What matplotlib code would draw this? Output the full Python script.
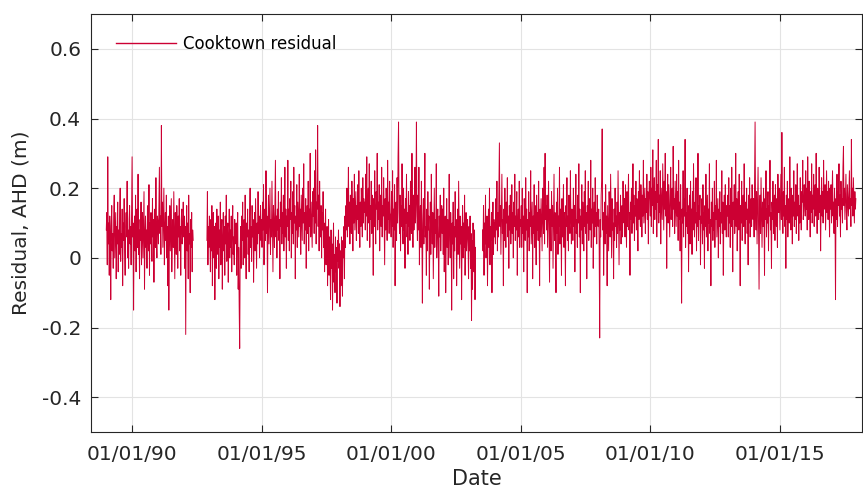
import numpy as np
import matplotlib
matplotlib.use("Agg")
import matplotlib.pyplot as plt
import matplotlib.dates as mdates

# weekly residuals in cm, three runs split by data gaps
seg1_start = "1989-01-01"
seg1_cm = [
    8, 13, -2, 29, 4, 10, -5, 12, 6, -12, 9, 15, 2, 7, -3, 11, 18, 0, 6, 13, -6, 9, 4, 16, -4, 8,
    1, 12, 20, -1, 7, 3, 14, -8, 10, 5, 17, 2, -5, 9, 13, 6, 22, 0, 8, -3, 11, 15, 4, 9, -2, 12,
    29, 6, 10, -15, 7, 12, 2, 18, -4, 9, 14, 3, 24, 1, 8, -6, 11, 5, 16, -2, 7, 13, 0, 10, 19, -9,
    6, 12, 3, 8, -3, 15, 9, 2, 21, -5, 10, 4, 13, 7, -1, 17, 6, 11, -7, 9, 14, 3, 23, 5, 0, 12,
    10, 4, 14, 26, 7, 12, 1, 38, 9, 16, 3, 11, 20, -2, 8, 13, 5, 18, 0, 9, -8, 12, -15, 6, 15, 2,
    10, 17, -4, 7, 11, 3, 19, 6, -6, 13, 8, 1, 15, 10, -3, 12, 6, 17, 2, 9, -5, 11, 14, 4, 8, 16,
    6, 12, -3, 9, -22, 8, 15, 2, 10, -6, 18, 4, 7, -10, 11, 3, 13, -4, 8, 5,
]

seg2_start = "1992-11-20"
seg2_cm = [
    5, 19, -2, 9, 3, 12,
    7, -4, 11, 2, 15, -8, 6, 13, 0, 9, -12, 4, 10, -3, 14, 6, 1, 12, -6, 8, 3, 16, -2, 7, 11, -9,
    5, 13, 2, 9, -5, 12, 4, 18, -1, 7, 10, -7, 6, 14, 0, 8, 3, 12, -4, 9, 15, 1, 6, -2, 11, 5,
    4, 10, -5, 8, 13, -9, 3, -14, -26, 2, 9, -3, 12, 5, 16, -2, 7, 11, 0, 18, 4, -6, 10, 6, 14, 1,
    8, -4, 12, 20, 3, 9, -1, 15, 6, 11, -7, 5, 13, 2, 17, 8, -3, 10, 4, 19, 7, 12, 0, 9, 15, 5,
    11, 3, 16, 8, 21, -2, 10, 14, 5, 25, 7, 12, -10, 9, 18, 4, 13, 20, 1, 11, 6, 22, 9, -4, 15, 10,
    3, 17, 28, 6, 12, 0, 14, 8, 19, 5, 11, -6, 16, 9, 23, 4, 13, 7, 18, 2, 10, 26, 6, 14, -3, 12,
    9, 28, 5, 14, 2, 17, 11, 22, 0, 13, 7, 19, 4, 26, 10, 15, -6, 12, 8, 21, 3, 16, 11, 6, 24, 9,
    14, 1, 18, 12, 5, 20, 10, 27, 4, 13, 8, 17, -3, 11, 15, 7, 22, 2, 14, 9, 30, 6, 16, 10, 3, 19,
    12, 20, 7, 25, 10, 31, 4, 16, 14, 38, 9, 18, 2, 22, 11, 6, 15, 0, 13, 8, 19, 3, 10, -4, 7, 14,
    -2, 5, 9, -8, 3, 11, -5, 6, 0, -12, 8, -3, 4, -15, 2, 10, -7, 1, -10, 6, -4, 3, -13, 5, -1, 8,
    -3, 4, -14, 2, -8, 6, -1, -11, 5, 0, 9, -6, 12, 3, 15, 8, 20, 6, 13, 26, 9, 16, 4, 18, 11, 7,
    22, 14, 2, 17, 10, 24, 8, 13, 19, 5, 15, 11, 21, 7, 25, 12, 3, 16, 9, 20, 14, 6, 23, 10, 17, 13,
    16, 8, 24, 12, 29, 5, 14, 20, 10, 27, 3, 15, 11, 22, 7, 18, 13, -5, 17, 9, 25, 12, 4, 19, 14, 30,
    8, 16, 11, 21, 2, 13, 18, 9, 26, 6, 15, 12, 23, 10, -2, 17, 8, 20, 14, 5, 28, 11, 16, 7, 22, 13,
    12, 6, 19, 9, 25, 3, 14, 8, 21, -8, 11, 16, 5, 23, 10, 29, 39, 13, 7, 18, 2, 15, 9, 27, 12, 4,
    20, 8, 14, -3, 17, 10, 24, 6, 13, 1, 19, 9, 15, 5, 22, 11, 7, 30, 12, 3, 18, 8, 14, 26, 10, 16,
    39, 12, 5, 18, 8, 26, -2, 11, 15, 3, 22, 7, -13, 10, 17, 4, 13, 30, 6, 9, -5, 14, 2, 19, 8, 12,
    -9, 6, 16, 1, 24, 10, 4, 13, -6, 8, 20, 3, 11, 7, 27, 0, 9, 14, 5, -11, 12, 6, 18, 2, 10, 15,
    7, 14, 1, 20, -4, 9, 12, -10, 6, 17, 3, 11, -2, 8, 24, 5, 0, 13, 7, -15, 10, 4, 16, -6, 9, 2,
    19, 6, 11, -8, 5, 14, 1, 22, 8, -3, 12, 4, 9, -12, 7, 15, 0, 10, 3, 18, -5, 8, 13, 2, 6, 11,
    4, -6, 9, 2, 12, -3, 7, -18, 5, -9, 10, 1, -4, 8, -12, 3,
]

seg3_start = "2003-07-12"
seg3_cm = [
    8, 2, 15, -5, 10, 4, 18, 0, 7, 12, -8, 6, 14, 3, 20, -2, 9, 5, 13, -10, 7, 16, 1, 11, 6,
    10, 4, 17, 8, 22, 2, 13, 6, 19, 33, 9, 15, 1, 12, 24, 7, 11, -8, 14, 5, 20, 9, 3, 16, 10, 23,
    6, 12, -3, 15, 8, 18, 4, 11, 21, 7, 13, 0, 16, 9, 24, 5, 12, 8, 19, -5, 10, 14, 6, 22, 3, 11,
    9, 15, 3, 20, 7, 12, -4, 17, 10, 5, 23, 8, 14, -10, 11, 6, 19, 2, 13, 9, 25, 4, 10, 16, -6, 12,
    7, 21, 3, 15, 11, -2, 18, 8, 13, 5, 22, 9, -8, 14, 6, 17, 10, 2, 20, 12, 7, 26, 4, 30, 11, 15,
    8, 18, 3, 12, 22, 6, -7, 14, 10, 2, 19, 9, 15, -3, 11, 24, 5, 13, 8, -10, 16, 7, 20, 1, 12, 9,
    26, 4, 14, 10, -5, 17, 6, 11, 21, 3, 13, 8, -8, 15, 9, 23, 5, 12, 2, 18, 10, 7, 25, 11, 4, 14,
    12, 5, 20, 9, 15, -4, 13, 24, 7, 11, 3, 18, 10, 27, 6, 14, -10, 12, 8, 21, 4, 16, 11, 2, 19, 9,
    25, 7, 13, -6, 15, 10, 22, 5, 12, 17, 8, 28, 3, 14, 10, 20, -3, 11, 16, 6, 23, 9, 13, 4, 18, 10,
    9, 14, 3, -23, 11, 6, 18, 22, 37, 8, 13, -5, 10, 16, 4, 21, 7, 12, -8, 15, 9, 2, 19, 11, 6, 24,
    13, 0, 17, 8, 10, -6, 14, 5, 20, 9, 12, 3, 16, 7, 25, 10, -2, 13, 8, 18, 4, 11, 15, 6, 22, 12,
    10, 17, 6, 21, 12, 3, 19, 9, 15, 24, 8, 13, -5, 16, 11, 20, 7, 14, 27, 10, 18, 5, 15, 12, 22, 8,
    17, 13, 2, 19, 11, 25, 14, 9, 21, 16, 6, 18, 12, 28, 10, 15, 20, 7, 17, 13, 24, 11, 19, 4, 16, 22,
    18, 12, 26, 9, 20, 15, 31, 7, 17, 23, 11, 19, 14, 28, 6, 21, 16, 34, 10, 18, 13, 25, 4, 20, 15, 11,
    27, 17, 8, 22, 14, 30, 12, 19, -3, 16, 24, 10, 21, 13, 6, 18, 26, 11, 15, 20, 9, 32, 14, 17, 7, 22,
    15, 9, 24, 12, 19, 5, 28, 11, 16, 2, 21, 8, -13, 14, 10, 25, 6, 17, 12, 34, 3, 13, 9, 20, 7, 15,
    -4, 11, 18, 4, 22, 10, 14, 1, 19, 8, 27, 12, 6, 16, 10, 23, 2, 13, 9, 30, 5, 15, 11, 18, -2, 12,
    10, 17, 4, 21, 8, 13, -3, 15, 9, 24, 6, 12, 18, 2, 14, 10, 27, 7, 11, -8, 16, 9, 20, 5, 13, 8,
    22, 3, 15, 11, 28, 6, 12, 17, 0, 14, 9, 19, 4, 13, 10, 25, 7, 16, -5, 11, 18, 8, 21, 12, 6, 15,
    12, 18, 6, 23, 10, 15, 3, 20, 9, 26, 13, -4, 16, 11, 21, 7, 14, 30, 9, 17, 2, 12, 19, 8, 24, 11,
    -8, 15, 10, 22, 5, 13, 18, 9, 27, 12, 4, 16, 11, 20, 7, 14, -2, 18, 10, 23, 6, 13, 17, 9, 21, 14,
    11, 17, 6, 22, 39, 13, 8, 19, 4, 15, 26, 10, -9, 14, 18, 7, 23, 12, 3, 16, 9, 20, 13, -5, 17, 11,
    25, 6, 14, 10, 19, 2, 15, 12, 28, 8, 13, -3, 16, 11, 22, 7, 14, 18, 5, 21, 12, 9, 17, 3, 24, 13,
    13, 20, 8, 16, 24, 11, 36, 14, 7, 19, 12, 26, 9, 15, -3, 18, 11, 22, 6, 14, 17, 10, 29, 13, 8, 20,
    15, 4, 18, 12, 25, 9, 16, 11, 21, 7, 14, 27, 12, 18, 5, 15, 10, 23, 13, 8, 19, 16, 28, 11, 14, 21,
    17, 12, 25, 14, 20, 8, 29, 16, 11, 22, 15, 6, 19, 13, 27, 10, 18, 14, 24, 9, 16, 21, 12, 30, 15, 7,
    20, 17, 11, 26, 13, 18, 2, 16, 23, 12, 19, 10, 28, 15, 14, 21, 8, 17, 25, 13, 19, 11, 22, 16, 6, 20,
    14, 21, 10, 18, 25, 12, 16, 7, 20, 13, -12, 17, 11, 24, 9, 19, 15, 27, 12, 18, 6, 22, 14, 17, 10, 26,
    32, 15, 20, 11, 18, 24, 13, 8, 21, 16, 12, 19, 25, 14, 17, 9, 34, 15, 20, 12, 23, 16, 10, 19, 14, 17,
]

xticks = ["1990-01-01", "1995-01-01", "2000-01-01", "2005-01-01", "2010-01-01", "2015-01-01"]
yticks = [-0.4, -0.2, 0, 0.2, 0.4, 0.6]

line_col = "#cc0033"
text_col = "#262626"

fig = plt.figure(figsize=(8.63, 4.93), dpi=100)
ax = fig.add_axes([0.1054, 0.1237, 0.8934, 0.8479])

first = True
for start, vals in [(seg1_start, seg1_cm), (seg2_start, seg2_cm), (seg3_start, seg3_cm)]:
    dates = np.datetime64(start) + np.arange(len(vals)) * np.timedelta64(7, "D")
    ax.plot(dates, np.array(vals) / 100.0, color=line_col, lw=0.7,
            label="Cooktown residual" if first else None)
    first = False

ax.set_xlim(np.datetime64("1988-05-30"), np.datetime64("2018-03-05"))
ax.set_ylim(-0.5, 0.7)
ax.set_xticks([np.datetime64(t) for t in xticks])
ax.xaxis.set_major_formatter(mdates.DateFormatter("%d/%m/%y"))
ax.set_yticks(yticks)
ax.set_yticklabels(["-0.4", "-0.2", "0", "0.2", "0.4", "0.6"])

ax.grid(True, color="#e3e3e3", lw=0.8)
ax.set_axisbelow(True)
ax.tick_params(direction="in", length=5, width=0.8, top=True, right=True,
               colors=text_col, labelsize=14.5)
ax.tick_params(axis="x", pad=9)
ax.tick_params(axis="y", pad=7)
for s in ax.spines.values():
    s.set_color(text_col)
    s.set_linewidth(0.8)

ax.set_xlabel("Date", fontsize=15, color=text_col, labelpad=4)
ax.set_ylabel("Residual, AHD (m)", fontsize=14.5, color=text_col, labelpad=8)

leg = ax.legend(loc="upper left", bbox_to_anchor=(0.032, 0.95), frameon=False,
                fontsize=12, handlelength=3.6, handletextpad=0.45,
                borderaxespad=0, borderpad=0)
leg.get_lines()[0].set_linewidth(1.0)

fig.savefig("out.png", dpi=100)
